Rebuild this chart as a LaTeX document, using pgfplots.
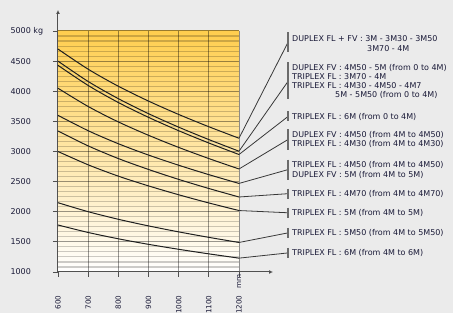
\documentclass[border=0pt]{standalone}
\usepackage{pgfplots}
\pgfplotsset{compat=1.18}
\usepackage{fontspec}
\setmainfont{DejaVu Sans}
\usetikzlibrary{arrows.meta}
\definecolor{pagebg}{RGB}{235,235,235}
\definecolor{txt}{RGB}{25,25,55}
\definecolor{topy}{RGB}{255,206,78}
\definecolor{midy}{RGB}{255,240,198}
\definecolor{axc}{RGB}{80,80,80}
\begin{document}
\begin{tikzpicture}[x=1pt,y=1pt]
\fill[pagebg] (0,0) rectangle (453,313);
\path[use as bounding box] (0,0) rectangle (453,313);
\begin{axis}[
  at={(58pt,41pt)}, anchor=south west,
  scale only axis, width=181pt, height=241pt,
  xmin=600, xmax=1200, ymin=1000, ymax=5000,
  clip=false,
  axis background/.style={top color=topy, middle color=midy, bottom color=white},
  axis x line*=bottom, axis y line*=left,
  x axis line style={draw=axc, line width=1pt, -{Latex[length=4pt,width=4pt]}, shorten >=-34pt},
  y axis line style={draw=axc, line width=1pt, -{Latex[length=4pt,width=4pt]}, shorten >=-21pt},
  xtick={600,700,800,900,1000,1100,1200},
  xticklabels={600,700,800,900,1000,1100,1200},
  ytick={1000,1500,2000,2500,3000,3500,4000,4500,5000},
  yticklabels={1000,1500,2000,2500,3000,3500,4000,4500,5000 kg},
  minor y tick num=5,
  tick align=outside,
  major tick length=5pt,
  minor tick length=0pt,
  tick style={draw=axc, line width=0.8pt},
  xmajorgrids, ymajorgrids, yminorgrids,
  major grid style={draw=black, opacity=0.4, line width=1pt},
  minor grid style={draw=black, opacity=0.2, line width=1.1pt},
  tick label style={font=\fontsize{8}{9}\selectfont, text=txt},
  yticklabel style={anchor=west, xshift=-46pt},
  xticklabel style={yshift=-15pt, rotate=90, anchor=east, font=\fontsize{7.2}{8}\selectfont},
  crv/.style={draw=black!88, line width=1pt, smooth, mark=none},
]
\addplot[crv] coordinates {(600,4700)(700,4366)(800,4083)(900,3837)(1000,3615)(1100,3411)(1200,3220)};
\addplot[crv] coordinates {(600,4500)(700,4162)(800,3877)(900,3628)(1000,3404)(1100,3198)(1200,3005)};
\addplot[crv] coordinates {(600,4430)(700,4096)(800,3813)(900,3567)(1000,3345)(1100,3141)(1200,2950)};
\addplot[crv] coordinates {(600,4050)(700,3747)(800,3491)(900,3269)(1000,3068)(1100,2883)(1200,2710)};
\addplot[crv] coordinates {(600,3600)(700,3345)(800,3129)(900,2941)(1000,2772)(1100,2616)(1200,2470)};
\addplot[crv] coordinates {(600,3340)(700,3093)(800,2883)(900,2702)(1000,2537)(1100,2386)(1200,2245)};
\addplot[crv] coordinates {(600,3000)(700,2779)(800,2591)(900,2429)(1000,2282)(1100,2146)(1200,2020)};
\addplot[crv] coordinates {(600,2150)(700,2001)(800,1875)(900,1765)(1000,1666)(1100,1575)(1200,1490)};
\addplot[crv] coordinates {(600,1780)(700,1656)(800,1551)(900,1459)(1000,1377)(1100,1301)(1200,1230)};
% connectors
\begin{scope}[draw=black!78, line width=0.8pt]
\draw (axis cs:1200,3220) -- (axis cs:1363,4817);
\draw (axis cs:1200,3005) -- (axis cs:1363,4167);
\draw (axis cs:1200,2950) -- (axis cs:1363,3583);
\draw (axis cs:1200,2710) -- (axis cs:1363,3200);
\draw (axis cs:1200,2470) -- (axis cs:1363,2700);
\draw (axis cs:1200,2245) -- (axis cs:1363,2300);
\draw (axis cs:1200,2020) -- (axis cs:1363,1983);
\draw (axis cs:1200,1490) -- (axis cs:1363,1650);
\draw (axis cs:1200,1230) -- (axis cs:1363,1317);
\end{scope}
\begin{scope}[draw=black!58, line width=1.6pt]
\draw (axis cs:1363,4983) -- (axis cs:1363,4650);
\draw (axis cs:1363,4483) -- (axis cs:1363,3867);
\draw (axis cs:1363,3667) -- (axis cs:1363,3500);
\draw (axis cs:1363,3367) -- (axis cs:1363,3033);
\draw (axis cs:1363,2867) -- (axis cs:1363,2533);
\draw (axis cs:1363,2383) -- (axis cs:1363,2217);
\draw (axis cs:1363,2067) -- (axis cs:1363,1900);
\draw (axis cs:1363,1733) -- (axis cs:1363,1567);
\draw (axis cs:1363,1400) -- (axis cs:1363,1233);
\end{scope}
\node[rotate=90, font=\fontsize{7.2}{8}\selectfont, text=txt] at (axis cs:1200,850) {mm};
\end{axis}
\begin{scope}[yshift=313pt, yscale=-1]
\tikzset{lab/.style={anchor=base west, inner sep=0pt, font=\fontsize{8}{9}\selectfont, text=txt}}
\node[lab] at (292,42) {DUPLEX FL + FV : 3M - 3M30 - 3M50};
\node[lab] at (367,52) {3M70 - 4M};
\node[lab] at (292,71) {DUPLEX FV : 4M50 - 5M (from 0 to 4M)};
\node[lab] at (292,80) {TRIPLEX FL : 3M70 - 4M};
\node[lab] at (292,89) {TRIPLEX FL : 4M30 - 4M50 - 4M7};
\node[lab] at (335,98) {5M - 5M50 (from 0 to 4M)};
\node[lab] at (292,120) {TRIPLEX FL : 6M (from 0 to 4M)};
\node[lab] at (292,138) {DUPLEX FV : 4M50 (from 4M to 4M50)};
\node[lab] at (292,147) {TRIPLEX FL : 4M30 (from 4M to 4M30)};
\node[lab] at (292,168) {TRIPLEX FL : 4M50 (from 4M to 4M50)};
\node[lab] at (292,178) {DUPLEX FV : 5M (from 4M to 5M)};
\node[lab] at (292,197) {TRIPLEX FL : 4M70 (from 4M to 4M70)};
\node[lab] at (292,216) {TRIPLEX FL : 5M (from 4M to 5M)};
\node[lab] at (292,236) {TRIPLEX FL : 5M50 (from 4M to 5M50)};
\node[lab] at (292,256) {TRIPLEX FL : 6M (from 4M to 6M)};
\end{scope}
\end{tikzpicture}
\end{document}
